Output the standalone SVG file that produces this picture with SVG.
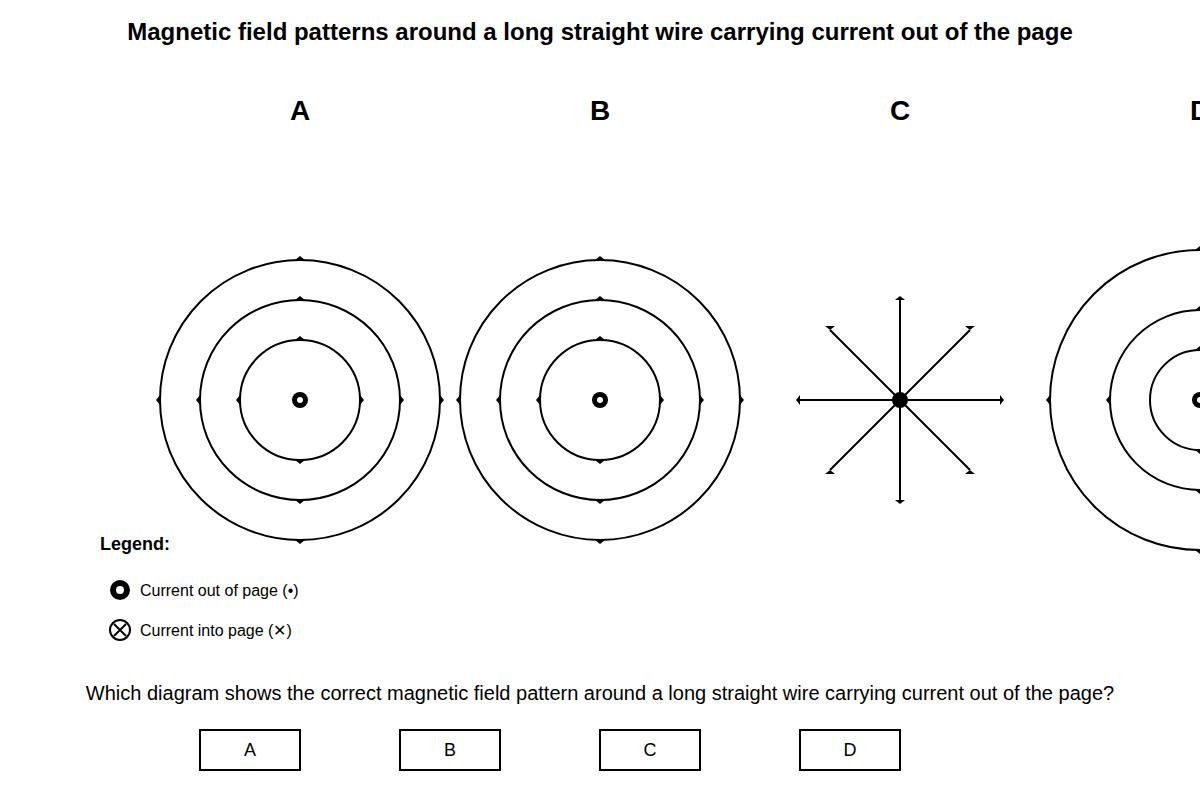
<svg xmlns="http://www.w3.org/2000/svg" width="1200" height="800" viewBox="0 0 1200 800">
<style>
.f{fill:none;stroke:#000;stroke-width:2}
.t{font-family:"Liberation Sans",Arial,sans-serif;fill:#000}
.h{fill:#000}
</style>
<defs>
<polygon id="up" points="-5,0 5,0 0,-4" class="h"/>
<polygon id="dn" points="-5,0 5,0 0,4" class="h"/>
<polygon id="lf" points="0,-5 0,5 -4,0" class="h"/>
<polygon id="rt" points="0,-5 0,5 4,0" class="h"/>
<g id="wire"><circle r="8" fill="#000"/><circle r="3" fill="#fff"/></g>
</defs>
<rect width="1200" height="800" fill="#fff"/>
<text class="t" x="600" y="40" font-size="24" font-weight="bold" text-anchor="middle">Magnetic field patterns around a long straight wire carrying current out of the page</text>
<g class="t" font-size="28" font-weight="bold" text-anchor="middle">
<text x="300" y="120">A</text><text x="600" y="120">B</text><text x="900" y="120">C</text><text x="1200" y="120">D</text>
</g>
<g id="nodeA">
<circle class="f" cx="300" cy="400" r="60"/><circle class="f" cx="300" cy="400" r="100"/><circle class="f" cx="300" cy="400" r="140"/>
<use href="#wire" x="300" y="400"/>
<use href="#up" x="300" y="340"/><use href="#up" x="300" y="300"/><use href="#up" x="300" y="260"/>
<use href="#dn" x="300" y="460"/><use href="#dn" x="300" y="500"/><use href="#dn" x="300" y="540"/>
<use href="#lf" x="240" y="400"/><use href="#lf" x="200" y="400"/><use href="#lf" x="160" y="400"/>
<use href="#rt" x="360" y="400"/><use href="#rt" x="400" y="400"/><use href="#rt" x="440" y="400"/>
</g>
<g id="nodeB">
<circle class="f" cx="600" cy="400" r="60"/><circle class="f" cx="600" cy="400" r="100"/><circle class="f" cx="600" cy="400" r="140"/>
<use href="#wire" x="600" y="400"/>
<use href="#up" x="600" y="340"/><use href="#up" x="600" y="300"/><use href="#up" x="600" y="260"/>
<use href="#dn" x="600" y="460"/><use href="#dn" x="600" y="500"/><use href="#dn" x="600" y="540"/>
<use href="#lf" x="540" y="400"/><use href="#lf" x="500" y="400"/><use href="#lf" x="460" y="400"/>
<use href="#rt" x="660" y="400"/><use href="#rt" x="700" y="400"/><use href="#rt" x="740" y="400"/>
</g>
<g id="nodeC">
<path class="f" d="M900 300V500M800 400H1000M830 330L970 470M970 330L830 470"/>
<circle cx="900" cy="400" r="8" fill="#000"/>
<use href="#up" x="900" y="300"/><use href="#dn" x="900" y="500"/>
<use href="#lf" x="800" y="400"/><use href="#rt" x="1000" y="400"/>
<use href="#dn" x="830" y="326"/><use href="#dn" x="970" y="326"/>
<use href="#up" x="830" y="474"/><use href="#up" x="970" y="474"/>
</g>
<g id="nodeD">
<path class="f" d="M1200 350A50 50 0 0 0 1200 450M1200 310A90 90 0 0 0 1200 490M1200 250A150 150 0 0 0 1200 550"/>
<use href="#wire" x="1200" y="400"/>
<use href="#up" x="1200" y="350"/><use href="#up" x="1200" y="310"/><use href="#up" x="1200" y="250"/>
<use href="#dn" x="1200" y="450"/><use href="#dn" x="1200" y="490"/><use href="#dn" x="1200" y="550"/>
<use href="#lf" x="1110" y="400"/><use href="#lf" x="1050" y="400"/>
</g>
<g id="legend">
<text class="t" x="100" y="550" font-size="18" font-weight="bold">Legend:</text>
<circle cx="120" cy="590" r="10" fill="#000"/><circle cx="120" cy="590" r="4" fill="#fff"/>
<text class="t" x="140" y="596" font-size="16">Current out of page (•)</text>
<circle cx="120" cy="630" r="10" fill="none" stroke="#000" stroke-width="2"/>
<path d="M114 624L126 636M126 624L114 636" stroke="#000" stroke-width="2"/>
<text class="t" x="140" y="636" font-size="16">Current into page (✕)</text>
</g>
<text class="t" x="600" y="700" font-size="20" text-anchor="middle">Which diagram shows the correct magnetic field pattern around a long straight wire carrying current out of the page?</text>
<g id="options" class="t" font-size="18" text-anchor="middle">
<rect x="200" y="730" width="100" height="40" fill="#fff" stroke="#000" stroke-width="2"/><text x="250" y="756">A</text>
<rect x="400" y="730" width="100" height="40" fill="#fff" stroke="#000" stroke-width="2"/><text x="450" y="756">B</text>
<rect x="600" y="730" width="100" height="40" fill="#fff" stroke="#000" stroke-width="2"/><text x="650" y="756">C</text>
<rect x="800" y="730" width="100" height="40" fill="#fff" stroke="#000" stroke-width="2"/><text x="850" y="756">D</text>
</g>
</svg>
